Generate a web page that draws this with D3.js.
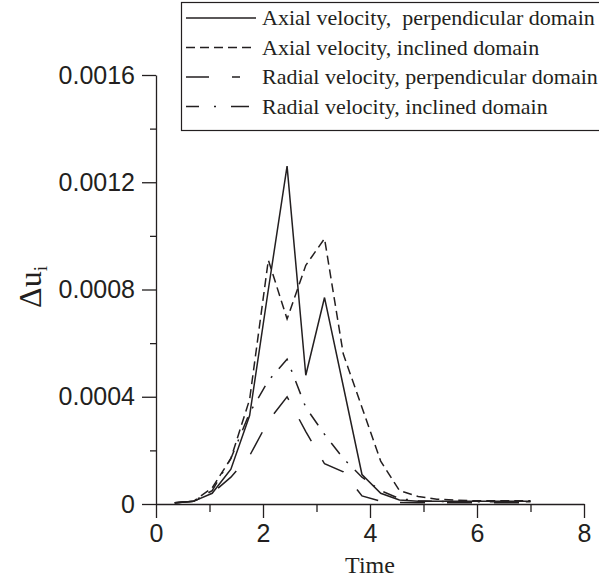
<!DOCTYPE html>
<html>
<head>
<meta charset="utf-8">
<script src="https://cdn.jsdelivr.net/npm/d3@7"></script>
<style>
  body { margin: 0; background: #fff; }
  svg { display: block; }
  .tick text { font-family: "Liberation Sans", Arial, sans-serif; }
</style>
</head>
<body>
<script>
// Time samples (every 0.35)
const time = [0.35, 0.7, 1.05, 1.4, 1.75, 2.1, 2.45, 2.8, 3.15, 3.5, 3.85, 4.2, 4.55, 4.9, 5.25, 5.6, 5.95, 6.3, 6.65, 7.0];

// series values
const axialPerp     = [0.000005, 0.00001, 0.00004, 0.00013, 0.00033, 0.0008, 0.00126, 0.00048, 0.00077, 0.00044, 0.00011, 0.00004, 0.000015, 0.00001, 0.00001, 0.00001, 0.00001, 0.00001, 0.00001, 0.00001];
const axialIncl     = [0.000005, 0.00001, 0.00006, 0.00017, 0.00039, 0.00091, 0.00069, 0.00089, 0.00099, 0.00056, 0.00036, 0.00016, 0.00005, 0.000028, 0.000018, 0.000014, 0.000012, 0.000012, 0.000012, 0.000012];
const radialPerp    = [0.000004, 0.00001, 0.00004, 0.0001, 0.00018, 0.00031, 0.0004, 0.00027, 0.00015, 0.00012, 0.00003, 0.00001, 0.000006, 0.000005, 0.000005, 0.000005, 0.000005, 0.000005, 0.000005, 0.000005];
const radialIncl    = [0.000005, 0.00001, 0.00005, 0.00017, 0.00034, 0.00046, 0.00054, 0.00036, 0.00026, 0.00017, 0.0001, 0.00005, 0.00002, 0.000012, 0.00001, 0.000008, 0.000008, 0.000008, 0.000008, 0.000008];

const seriesNames = [
  'Axial velocity,  perpendicular domain',
  'Axial velocity, inclined domain',
  'Radial velocity, perpendicular domain',
  'Radial velocity, inclined domain'
];
const dashes = [null, '9,5', '25,22', '14,10,2,10'];
const legendDashes = [null, '9,5', '23,23,8,100', '13,15,2,15,18,100'];

const xTicks = [0, 2, 4, 6, 8];
const xMinor = [1, 3, 5, 7];
const yTicks = [0, 0.0004, 0.0008, 0.0012, 0.0016];
const yMinor = [0.0002, 0.0006, 0.001, 0.0014];

const ink = '#231f20';
const width = 599, height = 581;

const svg = d3.select('body').append('svg')
  .attr('width', width)
  .attr('height', height);

const x = d3.scaleLinear().domain([0, 8]).range([156, 584]);
const y = d3.scaleLinear().domain([0, 0.0016]).range([504, 75]);

// minor ticks first
svg.append('g')
  .attr('transform', `translate(0,${y(0)})`)
  .call(d3.axisBottom(x).tickValues(xMinor).tickSize(8).tickFormat(''))
  .call(g => g.select('.domain').remove());
svg.append('g')
  .attr('transform', `translate(${x(0)},0)`)
  .call(d3.axisLeft(y).tickValues(yMinor).tickSize(6).tickFormat(''))
  .call(g => g.select('.domain').remove());

// major axes
svg.append('g')
  .attr('transform', `translate(0,${y(0)})`)
  .call(d3.axisBottom(x).tickValues(xTicks).tickSize(14).tickSizeOuter(0).tickPadding(6).tickFormat(d3.format('d')));
svg.append('g')
  .attr('transform', `translate(${x(0)},0)`)
  .call(d3.axisLeft(y).tickValues(yTicks).tickSize(14).tickSizeOuter(0).tickPadding(7)
    .tickFormat(d => d === 0 ? '0' : d3.format('.4f')(d)));

svg.selectAll('.tick text').attr('font-size', 25).attr('fill', ink);
svg.selectAll('.tick line, .domain').attr('stroke', ink).attr('stroke-width', 1.3);

// axis titles
svg.append('text')
  .attr('x', 370).attr('y', 573)
  .attr('text-anchor', 'middle')
  .attr('font-family', '"Liberation Serif", "Times New Roman", serif')
  .attr('font-size', 24)
  .attr('fill', ink)
  .text('Time');

const yLabel = svg.append('text')
  .attr('transform', 'translate(41,287) rotate(-90)')
  .attr('text-anchor', 'middle')
  .attr('font-family', '"Liberation Serif", "Times New Roman", serif')
  .attr('font-size', 32)
  .attr('fill', ink);
yLabel.append('tspan').text('\u0394u');
yLabel.append('tspan').attr('font-size', 19).attr('dy', 6).text('i');

// lines
const allSeries = [axialPerp, axialIncl, radialPerp, radialIncl];
const line = d3.line()
  .x((d, i) => x(time[i]))
  .y(d => y(d));

allSeries.forEach((s, idx) => {
  svg.append('path')
    .attr('d', line(s))
    .attr('fill', 'none')
    .attr('stroke', ink)
    .attr('stroke-width', 1.5)
    .attr('stroke-dasharray', dashes[idx]);
});

// legend
const legend = svg.append('g');
legend.append('rect')
  .attr('x', 181.5).attr('y', 2.5)
  .attr('width', 420).attr('height', 128)
  .attr('fill', '#fff')
  .attr('stroke', ink)
  .attr('stroke-width', 1.2);

seriesNames.forEach((name, idx) => {
  const ly = 18 + idx * 29.5;
  legend.append('line')
    .attr('x1', 186).attr('x2', 256)
    .attr('y1', ly).attr('y2', ly)
    .attr('stroke', ink)
    .attr('stroke-width', 1.5)
    .attr('stroke-dasharray', legendDashes[idx]);
  legend.append('text')
    .attr('x', 262).attr('y', ly + 7)
    .attr('font-family', '"Liberation Serif", "Times New Roman", serif')
    .attr('font-size', 22)
    .attr('fill', ink)
    .attr('xml:space', 'preserve')
    .text(name);
});
</script>
</body>
</html>
